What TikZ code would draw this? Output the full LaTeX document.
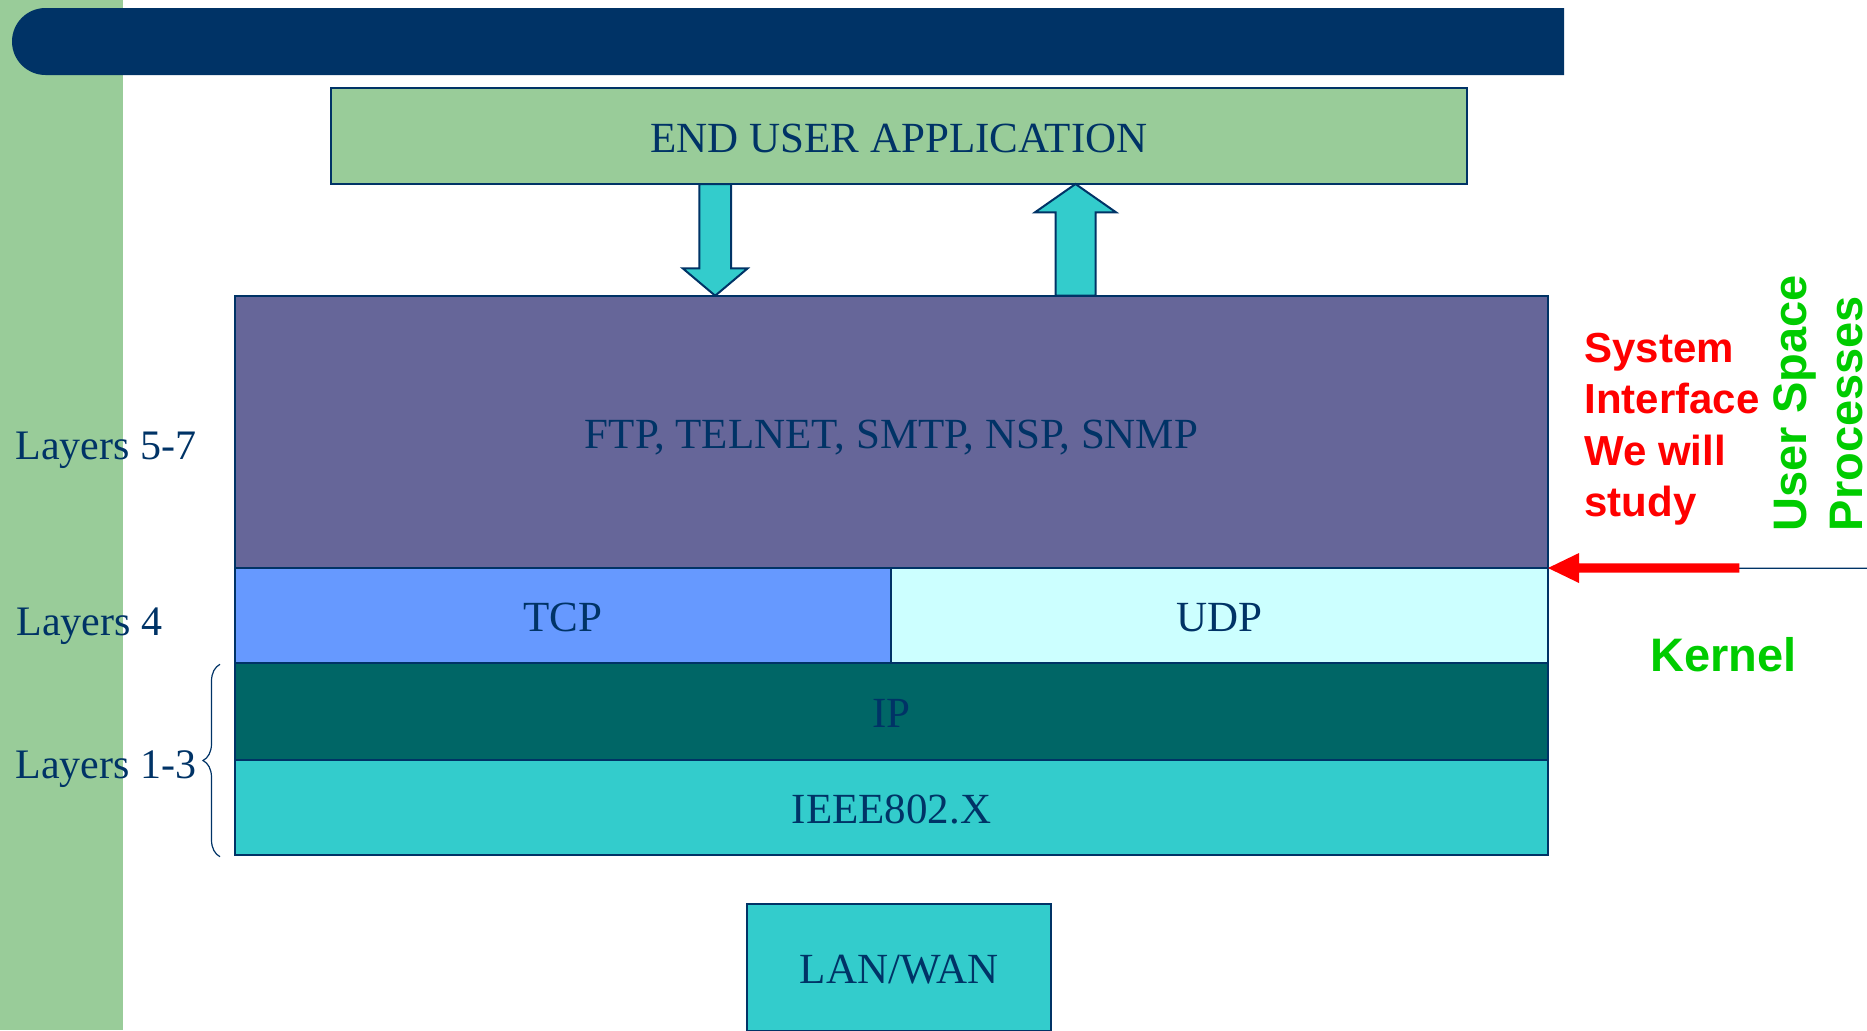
\documentclass[tikz,border=0pt]{standalone}
\usepackage{fontspec}
\setmainfont{Liberation Serif}
\newfontfamily\arialf{Liberation Sans}
\usetikzlibrary{calc,decorations.pathreplacing}
\definecolor{sidegreen}{HTML}{99CC99}
\definecolor{navy}{HTML}{003366}
\definecolor{purplebox}{HTML}{666699}
\definecolor{tcpblue}{HTML}{6699FF}
\definecolor{udpcyan}{HTML}{CCFFFF}
\definecolor{ipteal}{HTML}{006666}
\definecolor{aqua}{HTML}{33CCCC}
\definecolor{kgreen}{HTML}{00CC00}
\begin{document}
\begin{tikzpicture}[x=0.5pt,y=-0.5pt,
  layer/.style={draw=navy, line width=1pt, inner sep=0pt, outer sep=0pt, text=navy,
    font=\fontsize{21.5}{25}\selectfont, text height=16pt, text depth=0pt},
  lbl/.style={text=navy, font=\fontsize{21}{25}\selectfont, inner sep=0pt, anchor=base west},
  sys/.style={text=red, font=\arialf\bfseries\fontsize{21}{25.7}\selectfont, inner sep=0pt, anchor=base west},
  grn/.style={text=kgreen, font=\arialf\bfseries\fontsize{23.5}{28}\selectfont, inner sep=0pt, anchor=base west},
  blockarrow/.style={fill=aqua, draw=navy, line width=1pt, line join=miter}]
\useasboundingbox (0,0) rectangle (1867,1030);
\clip (0,0) rectangle (1867,1030);
% background decorations
\fill[sidegreen] (0,0) rectangle (123,1030);
\fill[navy] (1564,8) -- (45.5,8) arc[start angle=90,end angle=270,radius=16.75pt] -- (1564,75) -- cycle;
% boxes
\node[layer, fill=sidegreen, minimum width=568pt, minimum height=48pt] (app) at (899,136) {END USER APPLICATION};
\node[layer, fill=purplebox, minimum width=656.5pt, minimum height=136pt] (apps) at (891.5,432) {FTP, TELNET, SMTP, NSP, SNMP};
\node[layer, fill=tcpblue, minimum width=328pt, minimum height=47.5pt] (tcp) at (563,615.5) {TCP};
\node[layer, fill=udpcyan, minimum width=328.5pt, minimum height=47.5pt] (udp) at (1219.5,615.5) {UDP};
\node[layer, fill=ipteal, minimum width=656.5pt, minimum height=48.5pt] (ip) at (891.5,711.5) {IP};
\node[layer, fill=aqua, minimum width=656.5pt, minimum height=47.5pt] (ieee) at (891.5,807.5) {IEEE802.X};
\node[layer, fill=aqua, minimum width=152pt, minimum height=63.5pt] (lan) at (899,967.6) {LAN/WAN};
% block arrows between application and protocols
\draw[blockarrow] (699.3,184) -- (731,184) -- (731,268.3) -- (747.7,268.3) -- (715.2,295.7)
  -- (682.7,268.3) -- (699.3,268.3) -- cycle;
\draw[blockarrow] (1055.7,295.7) -- (1095.7,295.7) -- (1095.7,212.3) -- (1116,212.3) -- (1075.5,184)
  -- (1035,212.3) -- (1055.7,212.3) -- cycle;
% user/kernel boundary
\coordinate (edge) at (1867,568.3);
\draw[navy, line width=0.6pt] (apps.south east) -- (edge);
\fill[red] (apps.south east) -- ++(31,-15) -- ++(0,10.35) -- ++(160.3,0) -- ++(0,9.3)
  -- ++(-160.3,0) -- ++(0,10.35) -- cycle;
% brace
\draw[navy, line width=0.6pt, decorate, decoration={brace, amplitude=8.5pt}] (220,856.7) -- (220,664.3);
% labels
\node[lbl] (l57) at (15,459) {Layers 5-7};
\node[lbl] (l4) at (16,635) {Layers 4};
\node[lbl] (l13) at (15,778.3) {Layers 1-3};
\node[sys, align=left] (sysint) at (1584,516.7) {System\\Interface\\We will\\study};
\node[grn, rotate=90] (usp) at (1806,531.7) {User Space};
\node[grn, rotate=90] (proc) at (1862,531.7) {Processes};
\node[grn] (kern) at (1650,671.7) {Kernel};
\end{tikzpicture}
\end{document}
